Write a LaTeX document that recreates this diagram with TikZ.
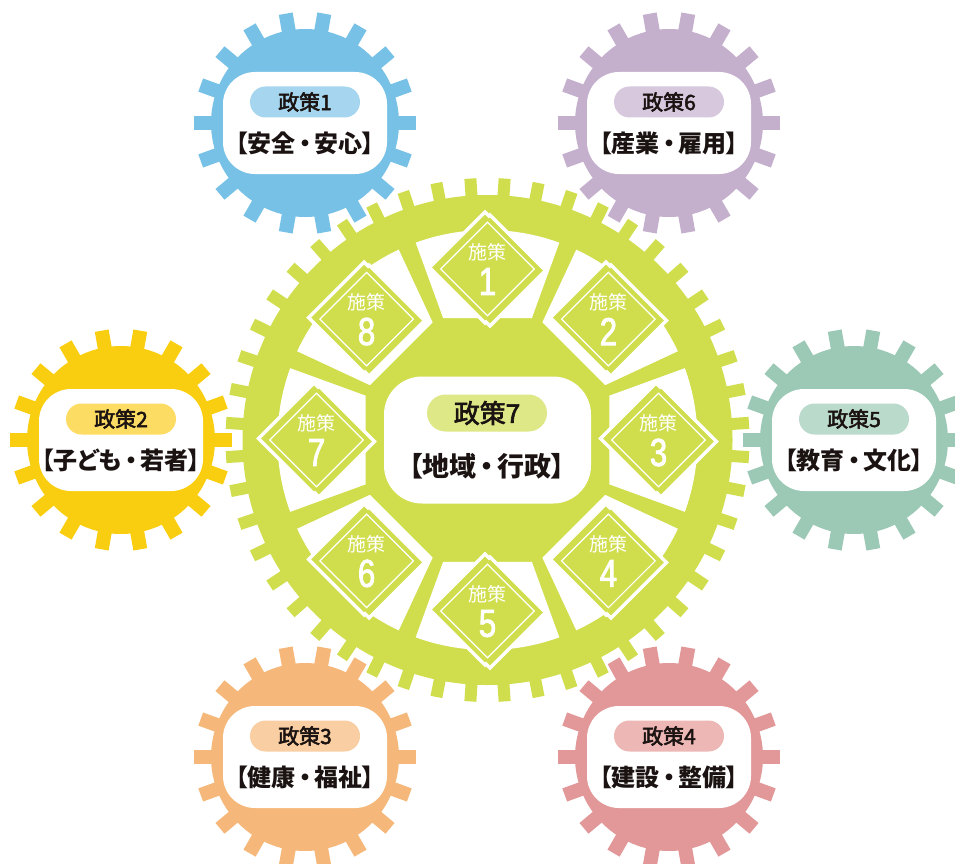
\documentclass[tikz,border=0pt]{standalone}
\usepackage{fontspec}
\usetikzlibrary{shapes.geometric}
\setmainfont{Noto Sans CJK JP}[RawFeature=+palt]
\newfontfamily\medfont{Noto Sans CJK JP}[RawFeature=+palt, FakeBold=2.5]
\newfontfamily\numfont{Liberation Sans}[FakeStretch=0.8, FakeBold=2]
\newcommand\dt{\kern.13em・\kern.13em}
\definecolor{ink}{HTML}{1A1311}
\definecolor{gblue}{HTML}{78C1E6}
\definecolor{gbluep}{HTML}{A6D6EF}
\definecolor{gpurple}{HTML}{C4AFCC}
\definecolor{gpurplep}{HTML}{D7C8DD}
\definecolor{gyellow}{HTML}{FACE10}
\definecolor{gyellowp}{HTML}{FDDC64}
\definecolor{gteal}{HTML}{9BC9B5}
\definecolor{gtealp}{HTML}{BADACC}
\definecolor{gorange}{HTML}{F5B87A}
\definecolor{gorangep}{HTML}{F9CEA3}
\definecolor{gpink}{HTML}{E29898}
\definecolor{gpinkp}{HTML}{ECB7B5}
\definecolor{ggreen}{HTML}{D0DE4E}
\definecolor{ggreenp}{HTML}{DEE887}
\tikzset{
  gbox/.style={fill=white, rounded corners=32pt, minimum width=164pt, minimum height=102pt, inner sep=0pt},
  pill/.style={rounded corners=15.5pt, minimum width=110pt, minimum height=31pt, inner sep=0pt, text=ink, font=\medfont\fontsize{21}{21}\selectfont},
  gtitle/.style={inner sep=0pt, text=ink, font=\fontsize{24}{24}\bfseries\selectfont},
  dmd/.style={diamond, aspect=1, inner sep=0pt},
  dtxt/.style={inner sep=0pt, text=white, font=\fontsize{19}{19}\selectfont},
  dnum/.style={inner sep=0pt, text=white, font=\numfont\fontsize{39}{39}\selectfont},
  cpillst/.style={fill=ggreenp, rounded corners=18.5pt, minimum width=120pt, minimum height=37pt, inner sep=0pt, text=ink, font=\medfont\fontsize{26}{26}\selectfont},
  ctitlest/.style={inner sep=0pt, text=ink, font=\fontsize{27}{27}\bfseries\selectfont},
  pics/smallgear/.style n args={4}{code={
    \fill[#1] (0,0) circle[radius=94pt];
    \foreach \a in {0,20,...,340}{\fill[#1, rotate=\a] (80pt,-7pt) rectangle (111pt,7pt);}
    \node[gbox] (-box) at (0,0) {};
    \node[pill, fill=#2] (-pill) at (0pt,21pt) {#3};
    \node[gtitle] (-title) at (0pt,-20pt) {#4};
  }}
}
\begin{document}
\begin{tikzpicture}[x=1pt,y=1pt]
\useasboundingbox (0,0) rectangle (955,-864);
% small gears
\pic (g1) at (305,-123) {smallgear={gblue}{gbluep}{政策1}{【安全\dt 安心】}};
\pic (g6) at (669,-123) {smallgear={gpurple}{gpurplep}{政策6}{【産業\dt 雇用】}};
\pic (g2) at (121,-440) {smallgear={gyellow}{gyellowp}{政策2}{【子ども\dt 若者】}};
\pic (g5) at (854,-440) {smallgear={gteal}{gtealp}{政策5}{【教育\dt 文化】}};
\pic (g3) at (305,-757) {smallgear={gorange}{gorangep}{政策3}{【健康\dt 福祉】}};
\pic (g4) at (669,-757) {smallgear={gpink}{gpinkp}{政策4}{【建設\dt 整備】}};
% big gear
\begin{scope}[shift={(487.5,-440)}]
  \fill[white] (0,0) circle[radius=248pt];
  \foreach \k in {0,...,47}{\fill[white, rotate={3.75+7.5*\k}] (230pt,-8.5pt) rectangle (265pt,8.5pt);}
  \fill[ggreen] (0,0) circle[radius=245pt];
  \foreach \k in {0,...,47}{\fill[ggreen, rotate={3.75+7.5*\k}] (230pt,-6pt) rectangle (262pt,6pt);}
  \foreach \m in {0,45,...,315}{
    \fill[white] ({\m-20}:129.8pt) -- ({\m-20}:210pt) arc[start angle={\m-20}, end angle={\m+20}, radius=210pt] -- ({\m+20}:129.8pt) -- cycle;
  }
  \foreach \n in {1,...,8}{
    \pgfmathsetmacro\th{90-45*(\n-1)}
    \begin{scope}[shift={(\th:171pt)}]
      \node[dmd, fill=white, minimum size=116pt] (d\n-wa) at (-2.5pt,1.5pt) {};
      \node[dmd, fill=white, minimum size=116pt] (d\n-wb) at (2.5pt,-1.5pt) {};
      \node[dmd, fill=ggreen, minimum size=106pt] (d\n-ga) at (-2.5pt,1.5pt) {};
      \node[dmd, fill=ggreen, minimum size=106pt] (d\n-gb) at (2.5pt,-1.5pt) {};
      \node[dmd, draw=white, line width=1.2pt, minimum size=94pt] (d\n-line) at (0,0) {};
      \node[dtxt] (d\n-lbl) at (0pt,17pt) {施策};
      \node[dnum] (d\n-num) at (0pt,-12.5pt) {\n};
    \end{scope}
  }
\end{scope}
% center
\node[fill=white, rounded corners=38pt, minimum width=207pt, minimum height=127pt, inner sep=0pt] (cbox) at (487.5,-440) {};
\node[cpillst] (cpill) at (487,-413) {政策7};
\node[ctitlest] (ctitle) at (487,-466) {【地域\dt 行政】};
\end{tikzpicture}
\end{document}
